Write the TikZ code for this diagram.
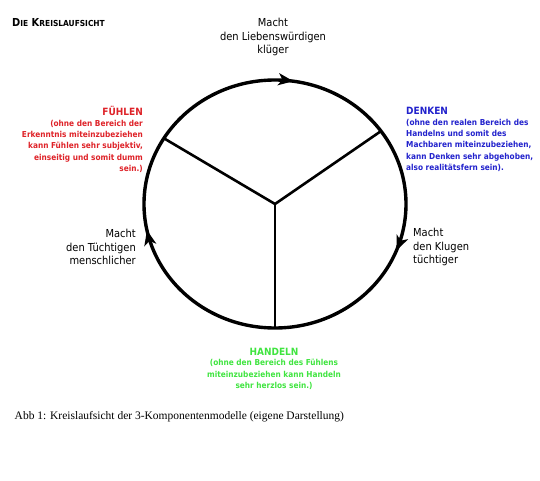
\documentclass[tikz,border=0pt]{standalone}
\usepackage{fontspec}
\newfontfamily\labelfont{DejaVu Sans Condensed}
\newfontfamily\captionfont{Liberation Serif}
\usetikzlibrary{positioning,arrows.meta,decorations.markings}
\definecolor{fuehlenred}{RGB}{222,34,40}
\definecolor{denkenblue}{RGB}{34,34,204}
\definecolor{handelngreen}{RGB}{64,228,64}

\begin{document}
\begin{tikzpicture}[x=1pt,y=1pt]
		\tikzstyle{ring}=[line width=3.4pt]
		\tikzstyle{spoke}=[line width=2.6pt]
		\tikzstyle{flow}=[postaction={decorate},decoration={markings,
			mark=at position 0.023 with {\arrow{Stealth[length=15pt,width=12pt,inset=4pt]}},
			mark=at position 0.310 with {\arrow{Stealth[length=15pt,width=12pt,inset=4pt]}},
			mark=at position 0.717 with {\arrow{Stealth[length=15pt,width=12pt,inset=4pt]}}}]
		\tikzstyle{effect}=[font=\labelfont\fontsize{11}{13.8}\selectfont, inner sep=0pt]
		\tikzstyle{head}=[font=\labelfont\bfseries\fontsize{10}{12}\selectfont, inner sep=0pt]
		\tikzstyle{annot}=[font=\labelfont\bfseries\fontsize{8.2}{11.3}\selectfont, inner sep=0pt]
		
		\useasboundingbox (0,0) rectangle (540,480);
		
		% Centre and the points where the spokes meet the ring
		\coordinate (M) at (275,276);
		\path (M) ++(148:131 and 124) coordinate (F);
		\path (M) ++(36:131 and 124) coordinate (D);
		\path (M) ++(270:131 and 124) coordinate (H);
		
		% Draw the ring, running clockwise
		\draw[ring,flow] (M) ++(90:131 and 124)
			arc[start angle=90, end angle=-270, x radius=131, y radius=124];
		
		% Draw the three spokes
		\foreach \dest in {F,D,H}
		\draw[spoke] (M) -- (\dest);
		
		% Title and caption
		\node[anchor=west, inner sep=0pt, font=\labelfont\bfseries\fontsize{11}{13}\selectfont] (title) at (12,457.3)
			{D{\fontsize{8.3}{10}\selectfont IE} K{\fontsize{8.3}{10}\selectfont REISLAUFSICHT}};
		\node[anchor=west, inner sep=0pt, font=\captionfont\fontsize{11.5}{13}\selectfont] (abb) at (14.5,63)
			{Abb 1: Kreislaufsicht der 3-Komponentenmodelle (eigene Darstellung)};
		
		% What each step of the cycle does
		\node[effect, align=center] (lieb) at (273,443) {Macht\\den Liebenswürdigen\\klüger};
		\node[effect, align=left, anchor=west] (klug) at (413,233) {Macht\\den Klugen\\tüchtiger};
		\node[effect, align=right, anchor=east] (tuecht) at (136,233) {Macht\\den Tüchtigen\\menschlicher};
		
		% Annotate the three components
		\node[head, text=fuehlenred, anchor=east] (fuehlen) at (143,369) {FÜHLEN};
		\node[annot, text=fuehlenred, align=right, below=4pt of fuehlen.south east, anchor=north east] (fuehlen-t)
			{(ohne den Bereich der\\Erkenntnis miteinzubeziehen\\kann Fühlen sehr subjektiv,\\einseitig und somit dumm\\sein.)};
		\node[head, text=denkenblue, anchor=west] (denken) at (406,369) {DENKEN};
		\node[annot, text=denkenblue, align=left, below=4pt of denken.south west, anchor=north west] (denken-t)
			{(ohne den realen Bereich des\\Handelns und somit des\\Machbaren miteinzubeziehen,\\kann Denken sehr abgehoben,\\also realitätsfern sein).};
		\node[head, text=handelngreen] (handeln) at (274,128.5) {HANDELN};
		\node[annot, text=handelngreen, align=center, below=4pt of handeln.south, anchor=north] (handeln-t)
			{(ohne den Bereich des Fühlens\\miteinzubeziehen kann Handeln\\sehr herzlos sein.)};
	\end{tikzpicture}
\end{document}
